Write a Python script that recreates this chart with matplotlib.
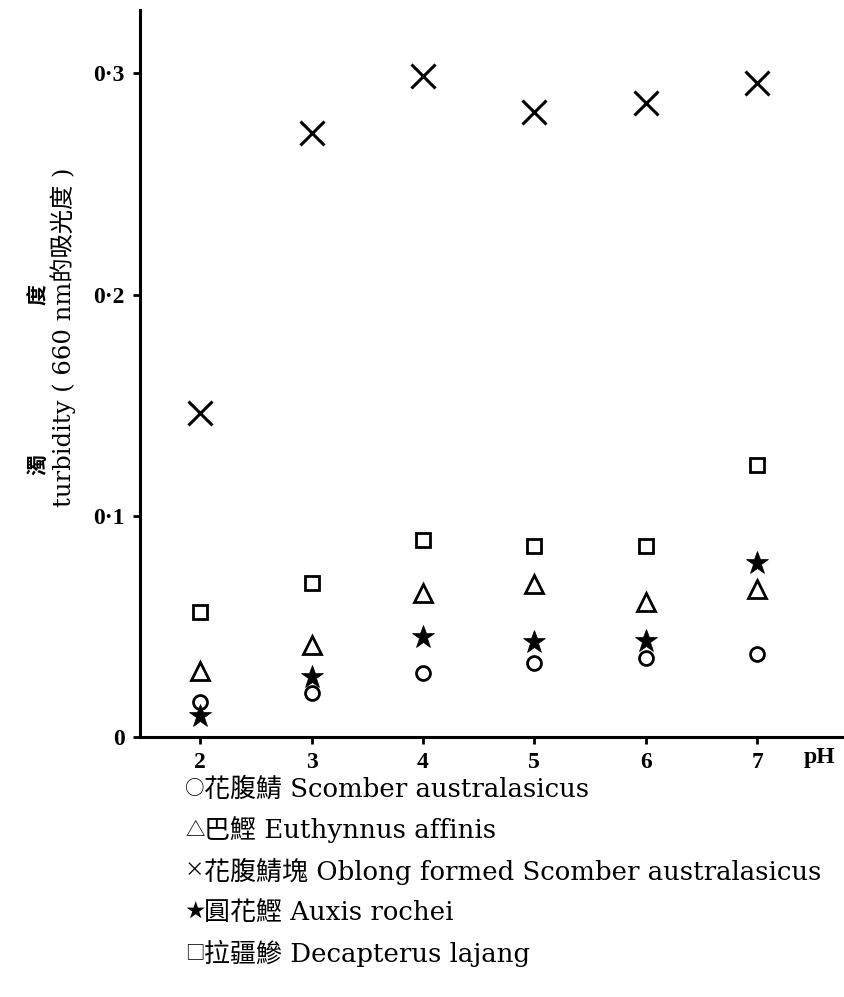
import matplotlib
matplotlib.use("Agg")
import matplotlib.pyplot as plt

ph = [2, 3, 4, 5, 6, 7]
circle_vals = [0.016, 0.020, 0.029, 0.0335, 0.0355, 0.0375]     # 花腹鯖
triangle_vals = [0.030, 0.0415, 0.065, 0.069, 0.061, 0.067]     # 巴鰹
cross_vals = [0.1465, 0.273, 0.299, 0.2825, 0.2865, 0.2955]      # 花腹鯖塊
star_vals = [0.0095, 0.027, 0.045, 0.043, 0.0435, 0.0785]        # 圓花鰹
square_vals = [0.0565, 0.0695, 0.089, 0.0865, 0.0865, 0.123]     # 拉疆鰺

yticks = [0, 0.1, 0.2, 0.3]
ytick_labels = ["0", "0·1", "0·2", "0·3"]
legend_symbols = ["○", "△", "×", "★", "□"]
legend_names = [
    "花腹鯖 Scomber australasicus",
    "巴鰹 Euthynnus affinis",
    "花腹鯖塊 Oblong formed Scomber australasicus",
    "圓花鰹 Auxis rochei",
    "拉疆鰺 Decapterus lajang",
]

FAM = ["Liberation Serif", "Noto Sans CJK TC", "DejaVu Sans"]
SERIF2 = ["DejaVu Serif", "Noto Sans CJK TC", "DejaVu Sans"]
CJK = ["Noto Sans CJK TC", "DejaVu Sans"]
plt.rcParams["font.family"] = FAM

fig = plt.figure(figsize=(8.44, 9.97), dpi=100)
ax = fig.add_axes([140/844, 260/997, 1 - 140/844, (737-10)/997])

ax.plot(ph, cross_vals, linestyle="none", marker="x", markersize=17, markeredgewidth=2.2, color="black")
ax.plot(ph, square_vals, linestyle="none", marker="s", markersize=10, markeredgewidth=2.0,
        markerfacecolor="white", color="black")
ax.plot(ph, triangle_vals, linestyle="none", marker="^", markersize=13, markeredgewidth=2.0,
        markerfacecolor="white", color="black")
ax.plot(ph, star_vals, linestyle="none", marker="*", markersize=17, markeredgewidth=0.5, color="black")
ax.plot(ph, circle_vals, linestyle="none", marker="o", markersize=10, markeredgewidth=2.0,
        markerfacecolor="none", color="black")

ax.set_xlim(1.46, 7.78)
ax.set_ylim(0, 0.3287)
ax.set_xticks(ph)
ax.set_xticklabels([str(p) for p in ph], fontweight="bold", fontsize=17)
ax.set_yticks(yticks)
ax.set_yticklabels(ytick_labels, fontweight="bold", fontsize=17)
ax.tick_params(axis="both", direction="out", length=5, width=2, pad=6)
for s in ["top", "right"]:
    ax.spines[s].set_visible(False)
for s in ["left", "bottom"]:
    ax.spines[s].set_linewidth(2.2)

fig.text(820/844, 1 - 757/997, "pH", fontsize=17, fontweight="bold", ha="center", va="center")

# y-axis labels
fig.text(38/844, 1 - 465/997, "濁", rotation=90, fontsize=15, fontweight="bold",
         family=CJK, ha="center", va="center")
fig.text(38/844, 1 - 295/997, "度", rotation=90, fontsize=15, fontweight="bold",
         family=CJK, ha="center", va="center")
fig.text(63/844, 1 - 507/997, "turbidity ( 660 nm的吸光度 )", rotation=90, fontsize=17.5,
         family=SERIF2, ha="center", va="bottom")

for i, (sym, name) in enumerate(zip(legend_symbols, legend_names)):
    y = 1 - (789 + 41*i)/997
    fig.text(185/844, y, sym, fontsize=14, family=CJK, ha="left", va="center")
    fig.text(204/844, y, name, fontsize=18.7, family=SERIF2, ha="left", va="center")

fig.savefig("out.png", dpi=100)
